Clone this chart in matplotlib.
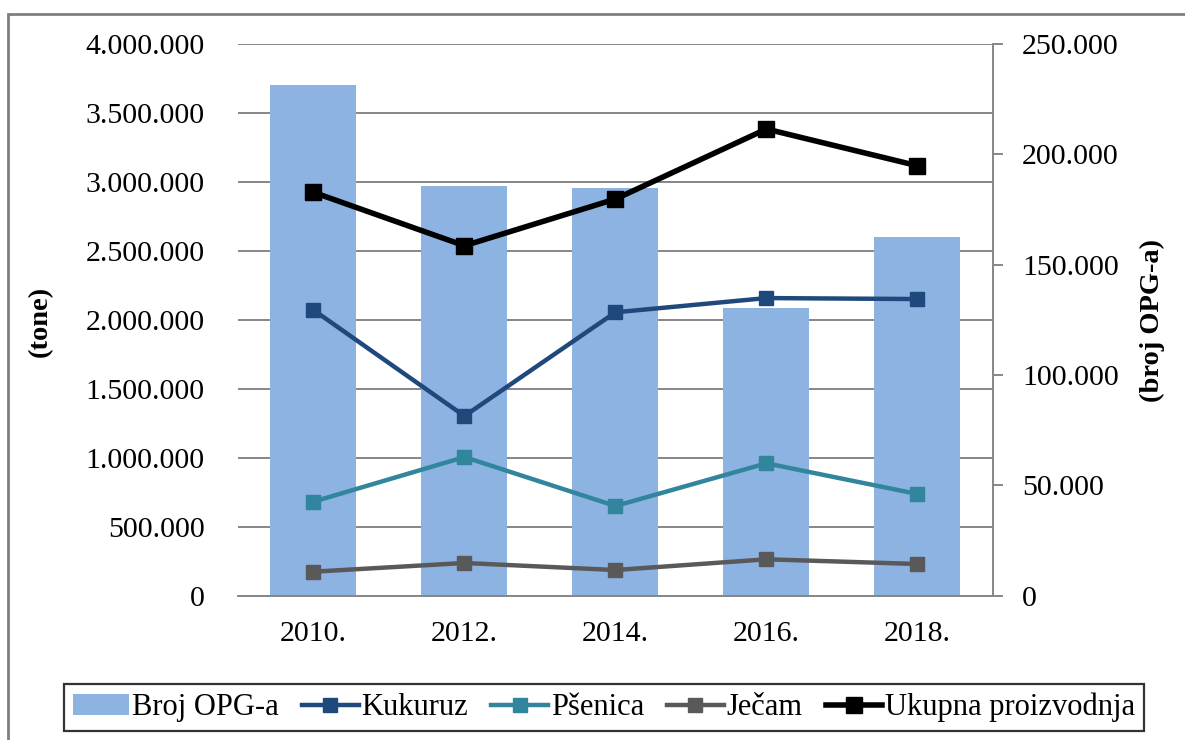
import numpy as np
import matplotlib
matplotlib.use("Agg")
import matplotlib.pyplot as plt
from matplotlib.patches import Rectangle
from matplotlib.ticker import FuncFormatter

plt.rcParams['font.family'] = ['Liberation Serif', 'DejaVu Serif']

years = ["2010.", "2012.", "2014.", "2016.", "2018."]
broj_opg = [231200, 185700, 184600, 130300, 162300]
kukuruz = [2070600, 1303000, 2054000, 2157000, 2150000]
psenica = [683000, 1006000, 651600, 960700, 738500]
jecam = [176000, 239000, 188000, 265700, 231700]
ukupno = [2922700, 2536000, 2874000, 3381000, 3115000]

left_max = 4000000
right_max = 250000
left_ticks = np.arange(0, left_max + 1, 500000)
right_ticks = np.arange(0, right_max + 1, 50000)

grid_col = '#868686'
fs = 21.5

def dots(v, pos=None):
    return f"{int(round(v)):,}".replace(",", ".")

fig = plt.figure(figsize=(11.85, 7.4), dpi=100)
x = np.arange(len(years))

# bars on the bottom axes (right scale), gridlines of the left scale drawn here so bars cover them
axb = fig.add_axes([0.2008, 0.1946, 0.6371, 0.7466])
for v in left_ticks:
    axb.axhline(v * right_max / left_max, color=grid_col, lw=1.4, zorder=0)
bars = axb.bar(x, broj_opg, width=0.57, color='#8DB3E2', zorder=2, label='Broj OPG-a')
axb.set_ylim(0, right_max)
axb.set_xlim(-0.5, len(years) - 0.5)
axb.set_yticks(right_ticks)
axb.yaxis.set_major_formatter(FuncFormatter(dots))
axb.set_xticks(x)
axb.set_xticklabels(years)

axl = axb.twinx()
axb.yaxis.tick_right()
axl.yaxis.tick_left()
axl.set_ylim(0, left_max)
axl.set_yticks(left_ticks)
axl.yaxis.set_major_formatter(FuncFormatter(dots))

ms = 10.5
l1, = axl.plot(x, kukuruz, color='#1F497D', lw=3.2, marker='s', ms=ms, label='Kukuruz')
l2, = axl.plot(x, psenica, color='#31859C', lw=3.2, marker='s', ms=ms, label='Pšenica')
l3, = axl.plot(x, jecam, color='#595959', lw=3.2, marker='s', ms=ms, label='Ječam')
l4, = axl.plot(x, ukupno, color='black', lw=4.0, marker='s', ms=11, label='Ukupna proizvodnja')

for s in ['top', 'left']:
    axb.spines[s].set_visible(False)
for s in axl.spines.values():
    s.set_visible(False)
axb.spines['right'].set_color(grid_col)
axb.spines['right'].set_linewidth(1.4)
axb.spines['bottom'].set_color(grid_col)
axb.spines['bottom'].set_linewidth(1.4)

axb.tick_params(axis='y', right=True, left=False, labelright=True, labelleft=False,
                direction='out', length=7, width=1.4, color=grid_col, labelsize=fs, pad=14)
axb.tick_params(axis='x', length=0, labelsize=fs, pad=18)
axl.tick_params(axis='y', left=True, right=False, labelleft=True, labelright=False,
                length=0, labelsize=fs, pad=24)

fig.text(40 / 1185, 0.565, '(tone)', rotation=90, ha='center', va='center',
         fontsize=20.5, fontweight='bold')
fig.text(1152 / 1185, 0.567, '(broj OPG-a)', rotation=90, ha='center', va='center',
         fontsize=20.5, fontweight='bold')

leg = fig.legend([bars, l1, l2, l3, l4],
                 ['Broj OPG-a', 'Kukuruz', 'Pšenica', 'Ječam', 'Ukupna proizvodnja'],
                 loc='center', bbox_to_anchor=(604 / 1185, 1 - 707.5 / 740), ncol=5,
                 fontsize=22, frameon=True, fancybox=False, edgecolor='black',
                 handlelength=1.85, handletextpad=0.1, columnspacing=0.75,
                 borderpad=0.3, borderaxespad=0)
leg.get_frame().set_linewidth(1.6)

fig.patches.append(Rectangle((8 / 1185, -0.1), 1.2, 1 - 14 / 740 + 0.1, transform=fig.transFigure,
                             fill=False, edgecolor='#7F7F7F', lw=2))

fig.savefig('out.png', dpi=100)
